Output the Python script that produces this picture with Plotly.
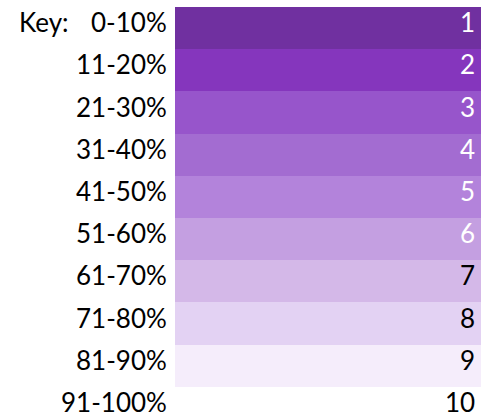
import plotly.graph_objects as go

categories = ["0-10%", "11-20%", "21-30%", "31-40%", "41-50%",
              "51-60%", "61-70%", "71-80%", "81-90%", "91-100%"]
levels = [1, 2, 3, 4, 5, 6, 7, 8, 9, 10]
bar_length = [1, 1, 1, 1, 1, 1, 1, 1, 1, 1]
colors = ["#7030A0", "#8536BD", "#9755CB", "#A36CD1", "#B383DB",
          "#C49FE1", "#D4B8E8", "#E3D2F3", "#F5EDFB", "#FFFFFF"]
text_colors = ["white", "white", "white", "white", "white", "white",
               "black", "black", "black", "black"]
key_label = "Key:"

FONT = "Lato"
SIZE = 26
YSHIFT = 6

rows = list(range(len(categories)))

fig = go.Figure()
fig.add_trace(go.Bar(
    x=bar_length,
    y=rows,
    orientation="h",
    marker=dict(color=colors, line=dict(width=0)),
    hoverinfo="skip",
    width=1,
))

for r, lv, tc, cat in zip(rows, levels, text_colors, categories):
    fig.add_annotation(
        x=1, y=r, xref="x", yref="y",
        text=str(lv), showarrow=False,
        xanchor="right", yanchor="middle",
        xshift=-4, yshift=YSHIFT,
        font=dict(family=FONT, size=SIZE, color=tc),
    )
    fig.add_annotation(
        x=0, y=r, xref="paper", yref="y",
        text=cat, showarrow=False,
        xanchor="right", yanchor="middle",
        xshift=-6, yshift=YSHIFT,
        font=dict(family=FONT, size=SIZE, color="black"),
    )

fig.add_annotation(
    x=0, y=rows[0], xref="paper", yref="y",
    text=key_label, showarrow=False,
    xanchor="right", yanchor="middle",
    xshift=-104, yshift=YSHIFT,
    font=dict(family=FONT, size=SIZE, color="black"),
)

fig.update_layout(
    width=481, height=416,
    margin=dict(l=175, r=0, t=7, b=0),
    paper_bgcolor="white", plot_bgcolor="white",
    showlegend=False,
    bargap=0,
    font=dict(family=FONT, size=SIZE, color="black"),
)
fig.update_xaxes(range=[0, 1], visible=False, fixedrange=True)
fig.update_yaxes(
    range=[9.19, -0.5],
    showticklabels=False,
    showgrid=False, zeroline=False, showline=False, ticks="",
    fixedrange=True,
)

fig.write_html(
    "out.html",
    config={"displayModeBar": False},
    post_script="document.body.style.margin='0';document.body.style.overflow='hidden';",
)
